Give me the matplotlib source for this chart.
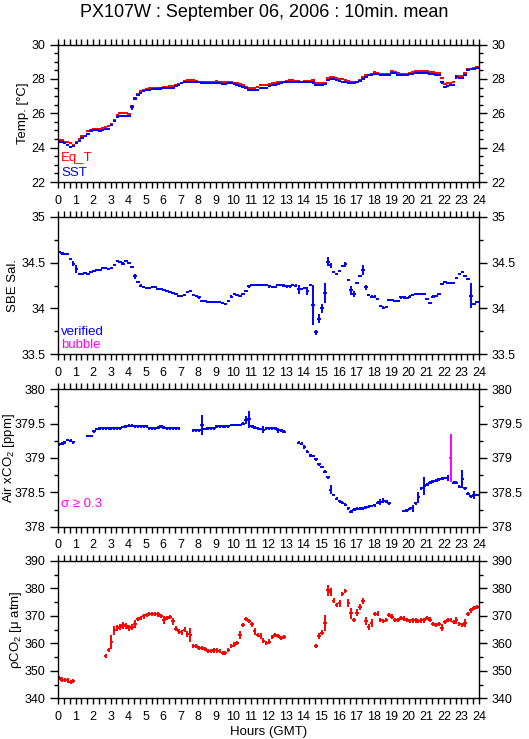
import numpy as np
import matplotlib
matplotlib.use("Agg")
import matplotlib.pyplot as plt
from matplotlib.ticker import MultipleLocator, FuncFormatter

plt.rcParams['font.family'] = ['Liberation Sans', 'DejaVu Sans']
plt.rcParams['mathtext.fontset'] = 'custom'
plt.rcParams['mathtext.rm'] = 'Liberation Sans'

nan = np.nan

# 10 minute means, 6 values per hour (rows = hours 0..23)
eq_t = [
    24.45, 24.45, 24.35, 24.30, 24.25, 24.15,
    24.35, 24.50, 24.65, 24.70, 24.95, 25.05,
    25.10, 25.10, 25.10, 25.15, 25.20, 25.25,
    25.40, 25.60, 25.90, 26.00, 26.00, 26.00,
    25.95, 26.40, 26.90, 27.15, 27.30, 27.35,
    27.40, 27.45, 27.45, 27.45, 27.50, 27.50,
    27.55, 27.55, 27.60, 27.60, 27.65, 27.70,
    27.75, 27.90, 27.95, 27.95, 27.95, 27.90,
    27.85, 27.85, 27.85, 27.85, 27.85, 27.85,
    27.90, 27.85, 27.80, 27.85, 27.85, 27.85,
    27.75, 27.75, 27.70, 27.65, 27.55, 27.50,
    27.45, 27.50, 27.55, 27.65, 27.65, 27.65,
    27.70, 27.75, 27.75, 27.80, 27.85, 27.85,
    27.90, 27.95, 27.95, 27.90, 27.90, 27.85,
    27.90, 27.90, 27.90, 27.95, 27.75, 27.75,
    27.75, 27.75, 28.05, 28.10, 28.10, 28.05,
    28.00, 28.00, 27.95, 27.90, 27.85, 27.85,
    27.85, 27.95, 28.10, 28.20, 28.25, 28.30,
    28.40, 28.35, 28.30, 28.30, 28.30, 28.30,
    28.45, 28.40, 28.35, 28.30, 28.30, 28.30,
    28.35, 28.40, 28.45, 28.45, 28.45, 28.45,
    28.45, 28.40, 28.40, 28.35, 28.35, 28.05,
    27.70, 27.75, 27.75, 27.80, 28.15, 28.15,
    28.15, 28.35, 28.55, 28.60, 28.65, 28.72,
]
sst = [
    24.32, 24.30, 24.25, 24.15, 24.05, 24.08,
    24.25, 24.40, 24.55, 24.65, 24.80, 24.95,
    25.00, 25.00, 24.95, 25.00, 25.10, 25.10,
    25.30, 25.55, 25.80, 25.85, 25.85, 25.85,
    25.85, 26.35, 26.85, 27.05, 27.20, 27.30,
    27.35, 27.35, 27.40, 27.40, 27.40, 27.45,
    27.45, 27.50, 27.50, 27.50, 27.60, 27.65,
    27.75, 27.85, 27.85, 27.85, 27.80, 27.80,
    27.80, 27.75, 27.75, 27.75, 27.75, 27.75,
    27.75, 27.75, 27.70, 27.70, 27.75, 27.75,
    27.70, 27.65, 27.60, 27.55, 27.45, 27.35,
    27.35, 27.35, 27.35, 27.45, 27.50, 27.50,
    27.60, 27.65, 27.65, 27.70, 27.75, 27.80,
    27.80, 27.85, 27.85, 27.85, 27.80, 27.80,
    27.80, 27.85, 27.85, 27.80, 27.65, 27.65,
    27.65, 27.70, 27.95, 28.00, 28.00, 27.95,
    27.90, 27.85, 27.80, 27.75, 27.75, 27.75,
    27.80, 27.90, 28.00, 28.10, 28.20, 28.25,
    28.30, 28.30, 28.20, 28.20, 28.20, 28.25,
    28.35, 28.35, 28.25, 28.20, 28.25, 28.20,
    28.30, 28.30, 28.35, 28.35, 28.35, 28.35,
    28.35, 28.30, 28.30, 28.20, 28.25, 27.80,
    27.55, 27.60, 27.65, 27.65, 28.10, 28.05,
    28.05, 28.25, 28.50, 28.55, 28.60, 28.65,
]
sst_err_idx = [4, 23, 25, 26, 35, 83, 87, 131, 136]
sst_err_val = [0.06, 0.06, 0.15, 0.10, 0.07, 0.05, 0.10, 0.10, 0.10]

sal = [
    34.62, 34.60, 34.59, 34.59, 34.54, 34.49,
    34.43, 34.38, 34.38, 34.39, 34.38, 34.40,
    34.41, 34.42, 34.42, 34.44, 34.44, 34.43,
    34.44, 34.47, 34.52, 34.51, 34.49, 34.52,
    34.50, 34.45, 34.35, 34.29, 34.25, 34.23,
    34.22, 34.22, 34.23, 34.23, 34.21, 34.21,
    34.20, 34.19, 34.18, 34.17, 34.16, 34.14,
    34.14, 34.15, 34.18, 34.19, 34.15, 34.14,
    34.12, 34.08, 34.08, 34.07, 34.07, 34.07,
    34.07, 34.07, 34.06, 34.05, 34.08, 34.13,
    34.16, 34.15, 34.14, 34.16, 34.19, 34.24,
    34.26, 34.26, 34.26, 34.26, 34.26, 34.26,
    34.24, 34.23, 34.23, 34.26, 34.26, 34.25,
    34.24, 34.24, 34.26, 34.25, 34.21, 34.21,
    34.22, 34.19, 34.26, 34.04, 33.74, 33.89,
    34.00, 34.17, 34.51, 34.47, 34.40, 34.38,
    34.41, 34.46, 34.48, 34.31, 34.20, 34.16,
    34.28, 34.35, 34.42, 34.23, 34.15, 34.13,
    34.13, 34.10, 34.03, 34.01, 34.02, 34.09,
    34.09, 34.08, 34.08, 34.12, 34.12, 34.11,
    34.13, 34.15, 34.16, 34.16, 34.16, 34.16,
    34.10, 34.06, 34.13, 34.14, 34.16, 34.27,
    34.29, 34.28, 34.28, 34.28, 34.33, 34.38,
    34.40, 34.35, 34.32, 34.14, 34.05, 34.07,
]
sal_err_idx = [5, 6, 26, 82, 85, 87, 88, 89, 90, 91, 92, 93, 98, 100, 101, 104, 105, 141]
sal_err_val = [0.03, 0.04, 0.03, 0.05, 0.04, 0.22, 0.03, 0.05, 0.05, 0.11, 0.05, 0.03,
               0.03, 0.05, 0.03, 0.05, 0.03, 0.14]

air = [
    379.20, 379.21, 379.23, 379.26, 379.25, 379.23,
    nan, nan, nan, nan, 379.32, 379.32,
    379.39, 379.42, 379.43, 379.43, 379.43, 379.43,
    379.43, 379.43, 379.43, 379.43, 379.45, 379.46,
    379.47, 379.47, 379.46, 379.46, 379.46, 379.46,
    379.46, 379.43, 379.43, 379.43, 379.44, 379.46,
    379.44, 379.43, 379.43, 379.43, 379.43, 379.43,
    nan, nan, nan, nan, 379.40, 379.40,
    379.40, 379.48, 379.42, 379.43, 379.43, 379.43,
    379.46, 379.46, 379.46, 379.46, 379.46, 379.48,
    379.48, 379.48, 379.48, 379.50, 379.55, 379.56,
    379.46, 379.44, 379.43, 379.42, 379.41, 379.43,
    379.43, 379.43, 379.43, 379.40, 379.40, 379.38,
    nan, nan, nan, nan, 379.22, 379.21,
    379.16, 379.09, 379.04, 379.03, 378.98, 378.91,
    378.87, 378.80, 378.72, 378.54, 378.46, 378.41,
    378.37, 378.35, 378.32, 378.27, 378.22, 378.25,
    378.26, 378.26, 378.27, 378.28, 378.29, 378.30,
    378.31, 378.35, 378.36, 378.38, 378.37, 378.34,
    nan, nan, nan, nan, 378.23, 378.24,
    378.26, 378.27, 378.34, 378.43, 378.56, 378.59,
    378.61, 378.64, 378.66, 378.67, 378.69, 378.70,
    378.71, 378.71, 379.00, 378.64, 378.64, 378.58,
    378.69, 378.56, 378.48, 378.44, 378.46, 378.46,
]
air_err_idx = [49, 64, 65, 70, 75, 84, 93, 110, 111, 121, 123, 125, 133, 134, 138, 142]
air_err_val = [0.15, 0.06, 0.13, 0.05, 0.04, 0.03, 0.07, 0.04, 0.04, 0.05, 0.08, 0.13,
               0.04, 0.35, 0.13, 0.06]
air_flag_idx = [134]  # sigma >= 0.3

pco2 = [
    347.3, 346.8, 346.7, 346.5, 346.0, 346.3,
    nan, nan, nan, nan, nan, nan,
    nan, nan, nan, nan, 355.3, 357.5,
    360.4, 364.7, 365.5, 366.0, 366.5, 366.3,
    365.5, 366.0, 367.0, 368.8, 369.2, 369.8,
    370.4, 370.7, 370.7, 370.6, 370.5, 370.0,
    368.5, 369.3, 369.6, 368.0, 365.3, 364.3,
    364.0, 365.0, 363.4, 362.9, 359.0, 359.0,
    358.3, 358.2, 357.9, 357.3, 357.3, 357.4,
    357.4, 357.2, 356.5, 356.5, 357.5, 359.0,
    359.5, 360.0, 363.0, 366.6, 368.8, 368.2,
    366.9, 364.3, 363.0, 362.6, 361.0, 360.2,
    360.6, 362.2, 363.0, 362.7, 362.0, 362.2,
    nan, nan, nan, nan, nan, nan,
    nan, nan, nan, nan, 359.0, 362.6,
    363.9, 367.4, 379.3, 378.7, 375.5, 374.0,
    374.5, 378.0, 379.1, 374.7, 371.0, 368.5,
    371.2, 373.2, 375.3, 368.0, 366.0, 367.3,
    370.7, 370.8, 368.5, 368.2, 368.5, 370.3,
    369.7, 368.5, 368.5, 369.2, 369.0, 368.5,
    368.2, 368.3, 368.3, 368.2, 368.3, 368.3,
    369.3, 368.6, 367.0, 366.6, 367.0, 365.7,
    367.7, 368.5, 368.5, 367.8, 368.3, 367.0,
    366.6, 367.3, 370.7, 372.0, 372.8, 373.3,
]
pco2_err_idx = [18, 19, 20, 21, 22, 23, 24, 25, 26, 36, 39, 40, 44, 45, 62, 67, 69,
                88, 89, 91, 92, 93, 94, 96, 99, 100, 102, 103, 104, 105, 106, 107,
                131, 136, 139]
pco2_err_val = [2.5, 1.5, 1.2, 1.2, 1.3, 1.2, 1.2, 1.0, 1.5, 1.3, 1.2, 1.0, 1.0, 2.5,
                1.5, 1.3, 1.2, 0.8, 1.0, 3.0, 2.0, 1.5, 1.0, 1.3, 1.5, 2.0, 1.2, 1.0,
                1.0, 1.5, 1.2, 1.5, 1.2, 1.2, 1.5]

hours = np.arange(144) / 6.0 + 0.05


def make_err(base, idx, vals):
    e = np.full(144, base)
    e[idx] = vals
    return e


def fmt_g(v, pos):
    return '%g' % v


def style_axis(ax, ylim, major, minor, label, label_x):
    ax.set_xlim(0, 24)
    ax.set_ylim(*ylim)
    ax.xaxis.set_major_locator(MultipleLocator(1))
    ax.xaxis.set_minor_locator(MultipleLocator(1 / 3))
    ax.yaxis.set_major_locator(MultipleLocator(major))
    ax.yaxis.set_minor_locator(MultipleLocator(minor))
    ax.yaxis.set_major_formatter(FuncFormatter(fmt_g))
    ax.tick_params(axis='both', which='both', direction='out', top=True, right=True,
                   labelright=True, labelsize=9, width=1)
    ax.tick_params(axis='x', which='both', length=4, pad=5)
    ax.tick_params(axis='y', which='major', length=6, pad=3)
    ax.tick_params(axis='y', which='minor', length=3)
    for s in ax.spines.values():
        s.set_linewidth(1)
    ax.set_ylabel(label, fontsize=9.5)
    ax.yaxis.set_label_coords(label_x, 0.5)


def bars(ax, y, err, color):
    ax.errorbar(hours, y, xerr=0.1, yerr=err, fmt='none', ecolor=color,
                elinewidth=1.4, capsize=0)


fig = plt.figure(figsize=(5.29, 7.39), dpi=100)
L, W, H = 0.1096, 0.7958, 0.186
ax1 = fig.add_axes([L, 0.7537, W, H])
ax2 = fig.add_axes([L, 0.5206, W, H])
ax3 = fig.add_axes([L, 0.2873, W, H])
ax4 = fig.add_axes([L, 0.0551, W, H])

fig.text(0.5, 0.983, 'PX107W : September 06, 2006 : 10min. mean', ha='center',
         va='center', fontsize=13)

# temperature
bars(ax1, np.array(eq_t), 0.03, 'red')
bars(ax1, np.array(sst), make_err(0.04, sst_err_idx, sst_err_val), 'blue')
style_axis(ax1, (22, 30), 2, 0.5, 'Temp. [°C]', -0.069)
ax1.text(0.008, 0.175, 'Eq_T', color='red', transform=ax1.transAxes, fontsize=9.5, va='center')
ax1.text(0.008, 0.066, 'SST', color='blue', transform=ax1.transAxes, fontsize=9.5, va='center')

# salinity
bars(ax2, np.array(sal), make_err(0.012, sal_err_idx, sal_err_val), 'blue')
style_axis(ax2, (33.5, 35), 0.5, 0.25, 'SBE Sal.', -0.093)
ax2.text(0.008, 0.164, 'verified', color='blue', transform=ax2.transAxes, fontsize=9.5, va='center')
ax2.text(0.008, 0.068, 'bubble', color='magenta', transform=ax2.transAxes, fontsize=9.5, va='center')

# air xCO2
air_arr = np.array(air)
air_err = make_err(0.02, air_err_idx, air_err_val)
air_ok = air_arr.copy()
air_ok[air_flag_idx] = nan
air_bad = np.full(144, nan)
air_bad[air_flag_idx] = air_arr[air_flag_idx]
bars(ax3, air_ok, air_err, 'blue')
bars(ax3, air_bad, air_err, 'magenta')
style_axis(ax3, (378, 380), 0.5, 0.25, 'Air xCO$_2$ [ppm]', -0.097)
ax3.text(0.008, 0.165, 'σ ≥ 0.3', color='magenta', transform=ax3.transAxes, fontsize=9.5, va='center')

# pCO2
bars(ax4, np.array(pco2), make_err(0.8, pco2_err_idx, pco2_err_val), 'red')
style_axis(ax4, (340, 390), 10, 5, 'ρCO$_2$ [μ atm]', -0.081)
ax4.set_xlabel('Hours (GMT)', fontsize=9.5, labelpad=2)

fig.savefig('out.png', dpi=100)
